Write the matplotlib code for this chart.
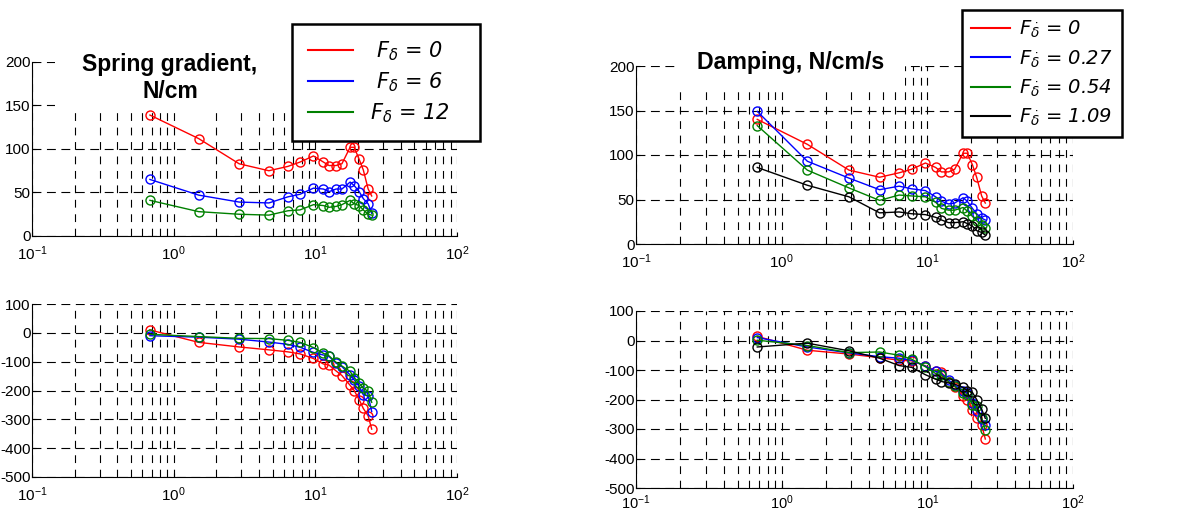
import matplotlib.pyplot as plt
from matplotlib.lines import Line2D
from matplotlib.patches import Rectangle

plt.rcParams['font.family'] = ['Liberation Sans', 'DejaVu Sans']
plt.rcParams['axes.unicode_minus'] = False
plt.rcParams['mathtext.fontset'] = 'dejavusans'

# frequencies (Hz), shared by every curve
freq = [0.68, 1.5, 2.9, 4.7, 6.4, 7.8, 9.7, 11.4, 12.5, 14.0, 15.4,
        17.6, 18.8, 20.4, 21.8, 23.6, 25.0]

# spring gradient, magnitude
spring_0 = [139, 112, 83, 75, 80, 85, 92, 85, 81, 81, 83, 102, 102, 88, 76, 54, 46]
spring_6 = [65, 47, 39, 38, 45, 48, 55, 54, 51, 54, 54, 62, 58, 51, 43, 37, 26]
spring_12 = [41, 28, 25, 24, 29, 30, 36, 35, 33, 34, 36, 41, 37, 35, 30, 25, 24]

# spring gradient, phase
spring_ph_0 = [10, -33, -49, -59, -66, -73, -89, -108, -112, -132, -148,
               -182, -200, -232, -262, -288, -334]
spring_ph_6 = [-10, -15, -22, -32, -40, -50, -68, -77, -82, -105, -117,
               -146, -163, -186, -215, -218, -273]
spring_ph_12 = [-5, -13, -19, -20, -26, -33, -51, -71, -80, -102, -115,
                -134, -155, -175, -192, -203, -241]

# damping, magnitude
damp_0 = [140, 112, 83, 75, 80, 84, 91, 86, 81, 81, 84, 102, 102, 89, 75, 54, 46]
damp_027 = [149, 93, 74, 61, 65, 62, 60, 53, 48, 45, 46, 52, 48, 40, 34, 29, 27]
damp_054 = [133, 83, 63, 49, 55, 54, 53, 47, 40, 38, 38, 41, 37, 31, 26, 21, 18]
damp_109 = [86, 66, 53, 35, 36, 34, 33, 30, 27, 24, 24, 25, 23, 20, 15, 13, 10]

# damping, phase
damp_ph_0 = [14, -33, -46, -58, -67, -69, -86, -103, -108, -141, -156,
             -187, -200, -235, -264, -286, -334]
damp_ph_027 = [10, -22, -42, -55, -60, -67, -87, -105, -112, -134, -151,
               -170, -179, -213, -238, -266, -288]
damp_ph_054 = [1, -17, -41, -39, -50, -63, -89, -112, -117, -140, -155,
               -178, -185, -218, -222, -263, -305]
damp_ph_109 = [-22, -9, -35, -60, -85, -91, -116, -131, -139, -144, -148,
               -159, -170, -176, -200, -233, -264]

spring_labels = [r' $F_{\delta}$ = 0   ', r' $F_{\delta}$ = 6   ',
                 r'$F_{\delta}$ = 12   ']
damp_labels = [r'$F_{\dot{\delta}}$ = 0', r'$F_{\dot{\delta}}$ = 0.27',
               r'$F_{\dot{\delta}}$ = 0.54', r'$F_{\dot{\delta}}$ = 1.09']

W, H = 1197, 514


def px_rect(x0, y0, x1, y1):
    return [x0 / W, 1 - y1 / H, (x1 - x0) / W, (y1 - y0) / H]


def setup(ax, ylim, yticks, xpad=6):
    ax.set_xscale('log')
    ax.set_xlim(0.1, 100)
    ax.set_ylim(*ylim)
    ax.set_yticks(yticks)
    ax.grid(True, which='major', axis='y', color='black', lw=0.8,
            dashes=(8, 5))
    ax.grid(True, which='both', axis='x', color='black', lw=0.8,
            dashes=(7, 6))
    ax.spines['top'].set_visible(False)
    ax.spines['right'].set_visible(False)
    ax.tick_params(which='both', direction='in', labelsize=11, length=3)
    ax.tick_params(axis='y', pad=1)
    ax.tick_params(axis='x', pad=xpad)
    ax.tick_params(which='minor', length=0)


fig = plt.figure(figsize=(11.97, 5.14), dpi=100)

ax1 = fig.add_axes(px_rect(32, 62, 457, 236))
ax2 = fig.add_axes(px_rect(636, 66, 1073, 244))
ax3 = fig.add_axes(px_rect(32, 304, 457, 477))
ax4 = fig.add_axes(px_rect(636, 311, 1073, 488))

colors3 = ['red', 'blue', 'green']
colors4 = ['red', 'blue', 'green', 'black']

for y, c in zip([spring_0, spring_6, spring_12], colors3):
    ax1.plot(freq, y, color=c, lw=1, marker='o', mfc='none', ms=6.5, mew=1)
for y, c in zip([spring_ph_0, spring_ph_6, spring_ph_12], colors3):
    ax3.plot(freq, y, color=c, lw=1, marker='o', mfc='none', ms=6.5, mew=1)
for y, c in zip([damp_0, damp_027, damp_054, damp_109], colors4):
    ax2.plot(freq, y, color=c, lw=1, marker='o', mfc='none', ms=6.5, mew=1)
for y, c in zip([damp_ph_0, damp_ph_027, damp_ph_054, damp_ph_109], colors4):
    ax4.plot(freq, y, color=c, lw=1, marker='o', mfc='none', ms=6.5, mew=1)

setup(ax1, (0, 200), [0, 50, 100, 150, 200])
setup(ax2, (0, 200), [0, 50, 100, 150, 200])
setup(ax3, (-500, 100), [-500, -400, -300, -200, -100, 0, 100])
setup(ax4, (-500, 100), [-500, -400, -300, -200, -100, 0, 100], xpad=4)
ax4.tick_params(axis='x', labelsize=10.5)

# white backgrounds behind the titles
for r in [px_rect(55, 50, 289, 107), px_rect(679, 50, 905, 90)]:
    fig.add_artist(Rectangle((r[0], r[1]), r[2], r[3], transform=fig.transFigure,
                             facecolor='white', edgecolor='none', zorder=2))

t1 = fig.text(170 / W, 1 - 78 / H, 'Spring gradient,\nN/cm', ha='center',
              va='center', fontsize=16.5, fontweight='bold', linespacing=1.25,
              zorder=3)
clip = Rectangle((0, 1 - 98 / H), 1, 98 / H, transform=fig.transFigure)
t1.set_clip_path(clip)
fig.text(791 / W, 1 - 63 / H, 'Damping, N/cm/s', ha='center', va='center',
         fontsize=16.7, fontweight='bold', zorder=3)

h1 = [Line2D([], [], color=c, lw=1.5) for c in colors3]
leg1 = fig.legend(h1, spring_labels, loc='upper left',
                  bbox_to_anchor=(292 / W, 1 - 24 / H), bbox_transform=fig.transFigure,
                  borderaxespad=0, fancybox=False, edgecolor='black', framealpha=1,
                  prop=dict(family='DejaVu Sans', style='italic', size=15),
                  handlelength=2.2, handletextpad=0.8, labelspacing=0.35,
                  borderpad=0.75)
leg1.get_frame().set_linewidth(1.8)

h2 = [Line2D([], [], color=c, lw=1.5) for c in colors4]
leg2 = fig.legend(h2, damp_labels, loc='upper left',
                  bbox_to_anchor=(962 / W, 1 - 10 / H), bbox_transform=fig.transFigure,
                  borderaxespad=0, fancybox=False, edgecolor='black', framealpha=1,
                  prop=dict(family='DejaVu Sans', style='italic', size=14),
                  handlelength=2.0, handletextpad=0.5, labelspacing=0.42,
                  borderpad=0.45)
leg2.get_frame().set_linewidth(1.8)

fig.savefig('out.png', dpi=100)
